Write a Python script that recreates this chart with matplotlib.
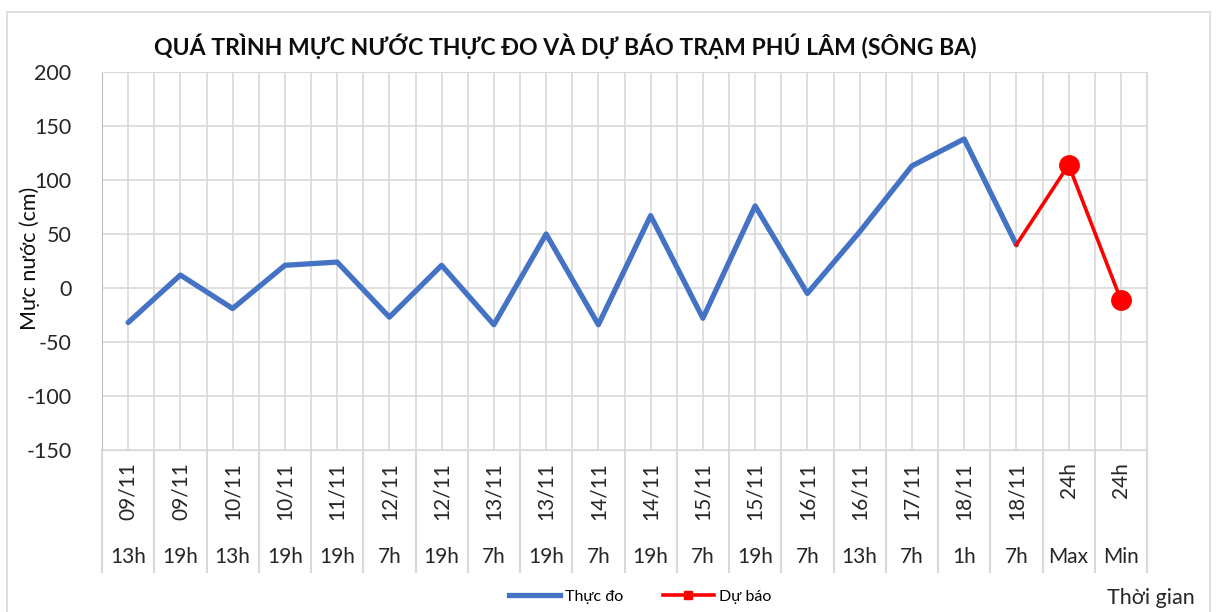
import numpy as np
import matplotlib.pyplot as plt
from matplotlib.lines import Line2D
from matplotlib.patches import Rectangle

plt.rcParams['font.family'] = ['Lato', 'DejaVu Sans']
plt.rcParams['axes.unicode_minus'] = False

ngay = ["09/11", "09/11", "10/11", "10/11", "11/11", "12/11", "12/11", "13/11", "13/11", "14/11",
        "14/11", "15/11", "15/11", "16/11", "16/11", "17/11", "18/11", "18/11", "24h", "24h"]
gio = ["13h", "19h", "13h", "19h", "19h", "7h", "19h", "7h", "19h", "7h",
       "19h", "7h", "19h", "7h", "13h", "7h", "1h", "7h", "Max", "Min"]
thuc_do = [-32, 12, -19, 21, 24, -27, 21, -34, 50, -34, 67, -28, 76, -5, 52, 113, 138, 40]
du_bao = [40, 114, -11]

W, H = 1217, 612
fig = plt.figure(figsize=(W / 100, H / 100), dpi=100)
fig.patches.append(Rectangle((7 / W, -0.01), (1210 - 7) / W, (H - 12) / H + 0.01,
                             transform=fig.transFigure, fill=False,
                             edgecolor="#d9d9d9", linewidth=1.2))

x0, x1, ytop, ybot = 102, 1147, 72, 450
ax = fig.add_axes([x0 / W, (H - ybot) / H, (x1 - x0) / W, (ybot - ytop) / H])

n = len(gio)
x = np.arange(n)
ax.set_xlim(-0.5, n - 0.5)
ax.set_ylim(-150, 200)
ax.set_yticks(np.arange(-150, 201, 50))
ax.tick_params(axis="y", length=0, pad=22, labelsize=15.5, labelcolor="#262626")
ax.set_xticks([])

# luoi
for yv in np.arange(-150, 201, 50):
    ax.axhline(yv, color="#d9d9d9", lw=1.2, zorder=0)
for xv in np.arange(-0.5, n, 0.5):
    ax.axvline(xv, color="#d9d9d9", lw=1.2, zorder=0)
for s in ax.spines.values():
    s.set_color("#d9d9d9")
ax.spines["left"].set_color("#bfbfbf")

# nhan truc x hai tang
trans = ax.get_xaxis_transform()
ylow = -(572 - ybot) / (ybot - ytop)
for xv in np.arange(-0.5, n, 1.0):
    ax.plot([xv, xv], [0, ylow], color="#d9d9d9", lw=1.5, transform=trans, clip_on=False)
for i in range(n):
    ax.text(x[i], -(462 - ybot) / (ybot - ytop), ngay[i], transform=trans, rotation=90,
            ha="center", va="top", fontsize=15, color="#262626")
    ax.text(x[i], -(557 - ybot) / (ybot - ytop), gio[i], transform=trans,
            ha="center", va="center", fontsize=15, color="#262626")

ax.plot(x[:len(thuc_do)], thuc_do, color="#4472C4", lw=3.8, solid_joinstyle="round",
        solid_capstyle="round", zorder=3)
xd = x[len(thuc_do) - 1:]
ax.plot(xd, du_bao, color="#FF0000", lw=2.6, solid_joinstyle="round", zorder=4)
ax.plot(xd[1:], du_bao[1:], "o", color="#FF0000", ms=14, zorder=5)

fig.text(565 / W, 1 - 46 / H, "QUÁ TRÌNH MỰC NƯỚC THỰC ĐO VÀ DỰ BÁO TRẠM PHÚ LÂM (SÔNG BA)",
         ha="center", va="center", fontsize=16.6, fontweight="bold", color="#0d0d0d")
fig.text(30 / W, 1 - 258 / H, "Mực nước (cm)", rotation=90, ha="center", va="center",
         fontsize=15.5, color="#0d0d0d")
fig.text(1195 / W, 1 - 598 / H, "Thời gian", ha="right", va="center", fontsize=15.5, color="#262626")

handles = [Line2D([], [], color="#4472C4", lw=3.8),
           Line2D([], [], color="#FF0000", lw=2.6, marker="s", ms=6)]
fig.legend(handles, ["Thực đo", "Dự báo"], loc="center", bbox_to_anchor=(640 / W, 1 - 597 / H),
           ncol=2, frameon=False, fontsize=11.5, handlelength=3.2, columnspacing=2.5,
           handletextpad=0.3)

fig.savefig("out.png", dpi=100)
